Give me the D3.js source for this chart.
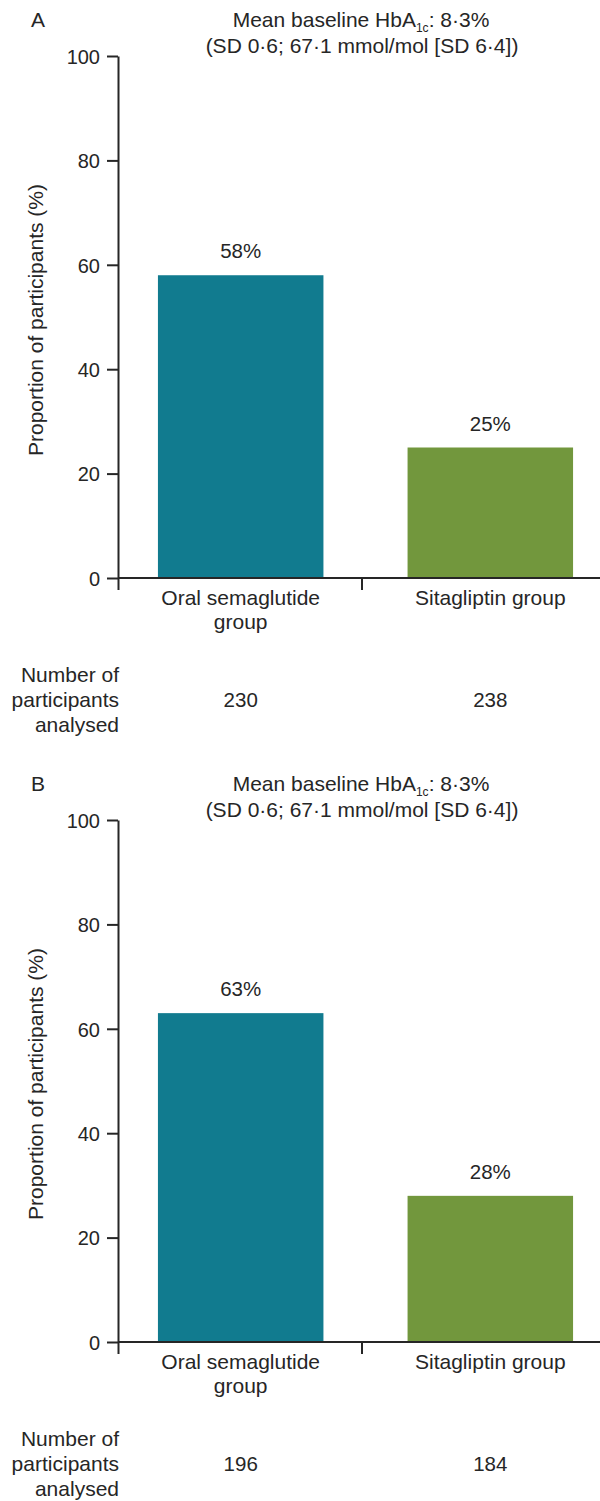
<!DOCTYPE html>
<html>
<head>
    <meta charset="utf-8">
    <title>HbA1c target proportion</title>
    <script src="https://cdn.jsdelivr.net/npm/d3@7/dist/d3.min.js"></script>
    <style>
        body { margin: 0; background: #fff; }
        svg text { font-family: "Liberation Sans", Arial, sans-serif; fill: #262626; }
        .axis path, .axis line { stroke: #262626; stroke-width: 2; }
    </style>
</head>
<body>
    <div id="chart"></div>

    <script>
        // data
        const panelNames = ["A", "B"];
        const categories = ["Oral semaglutide group", "Sitagliptin group"];
        const categoryLines = [["Oral semaglutide", "group"], ["Sitagliptin group"]];
        const valuesA = [58, 25];
        const valuesB = [63, 28];
        const countsA = [230, 238];
        const countsB = [196, 184];
        const yTicks = [0, 20, 40, 60, 80, 100];
        const colors = ["#117b8f", "#72973d"];

        const panels = [
            { name: panelNames[0], values: valuesA, counts: countsA },
            { name: panelNames[1], values: valuesB, counts: countsB }
        ];

        const W = 600, H = 1501;
        const panelH = 764;
        const plotLeft = 118, plotTop = 56, plotBottom = 578;
        const fs = 21, fsNum = 20.5;

        const svg = d3.select("#chart").append("svg")
            .attr("width", W).attr("height", H);

        const y = d3.scaleLinear().domain([0, 100]).range([plotBottom, plotTop]);
        const x = d3.scaleBand().domain(categories)
            .range([116, 615]).paddingInner(0.337).paddingOuter(0.168);
        // boundaries between groups for the x ticks
        const xb = d3.scaleLinear().domain([0, 2]).range([plotLeft, 605]);

        panels.forEach((p, i) => {
            const g = svg.append("g").attr("transform", `translate(0,${i * panelH})`);

            g.append("text").attr("x", 31).attr("y", 27)
                .attr("font-size", fs).text(p.name);

            const t1 = g.append("text").attr("x", 361).attr("y", 27)
                .attr("text-anchor", "middle").attr("font-size", fs);
            t1.append("tspan").text("Mean baseline HbA");
            t1.append("tspan").attr("font-size", 12).attr("dy", 5).text("1c");
            t1.append("tspan").attr("dy", -5).text(": 8·3%");
            g.append("text").attr("x", 362).attr("y", 53)
                .attr("text-anchor", "middle").attr("font-size", fs)
                .text("(SD 0·6; 67·1 mmol/mol [SD 6·4])");

            // bars
            g.selectAll(".bar").data(p.values).join("rect")
                .attr("x", (d, j) => x(categories[j]))
                .attr("y", d => y(d))
                .attr("width", x.bandwidth())
                .attr("height", d => y(0) - y(d))
                .attr("fill", (d, j) => colors[j]);

            g.selectAll(".val").data(p.values).join("text")
                .attr("x", (d, j) => x(categories[j]) + x.bandwidth() / 2)
                .attr("y", d => y(d) - 17)
                .attr("text-anchor", "middle").attr("font-size", fsNum)
                .text(d => d + "%");

            // axes
            const ya = g.append("g").attr("class", "axis")
                .attr("transform", `translate(${plotLeft},0)`)
                .call(d3.axisLeft(y).tickValues(yTicks).tickSize(11).tickPadding(7).tickSizeOuter(0));
            ya.selectAll("text").attr("font-size", 20).attr("font-family", null).attr("dy", "0.36em");

            const xa = g.append("g").attr("class", "axis")
                .attr("transform", `translate(0,${plotBottom})`)
                .call(d3.axisBottom(xb).tickValues([0, 1, 2]).tickSize(12).tickFormat("").tickSizeOuter(0));
            xa.select(".domain").attr("d", `M${plotLeft},0H${W}`);

            g.append("text")
                .attr("transform", `translate(43,320) rotate(-90)`)
                .attr("text-anchor", "middle").attr("font-size", fs)
                .text("Proportion of participants (%)");

            // category labels
            categoryLines.forEach((lines, j) => {
                const cx = x(categories[j]) + x.bandwidth() / 2;
                lines.forEach((s, k) => {
                    g.append("text").attr("x", cx).attr("y", 605 + k * 24)
                        .attr("text-anchor", "middle").attr("font-size", fs).text(s);
                });
            });

            // participant counts
            ["Number of", "participants", "analysed"].forEach((s, k) => {
                g.append("text").attr("x", 119).attr("y", 682 + k * 25)
                    .attr("text-anchor", "end").attr("font-size", fs).text(s);
            });
            g.selectAll(".cnt").data(p.counts).join("text")
                .attr("x", (d, j) => x(categories[j]) + x.bandwidth() / 2)
                .attr("y", 707)
                .attr("text-anchor", "middle").attr("font-size", fsNum)
                .text(d => d);
        });
    </script>
</body>
</html>
